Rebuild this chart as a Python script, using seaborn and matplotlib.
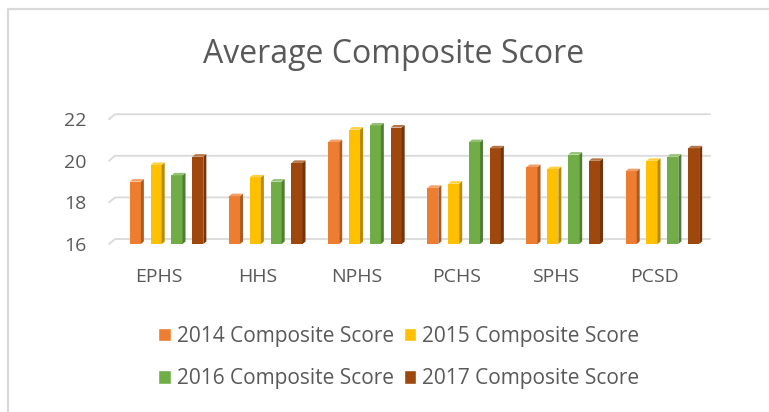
import numpy as np
import pandas as pd
import matplotlib
matplotlib.use("Agg")
import matplotlib.pyplot as plt
import matplotlib.transforms as mtransforms
from matplotlib.patches import Polygon
from matplotlib.lines import Line2D
import matplotlib.colors as mcolors
import seaborn as sns

# ---------------- data ----------------
schools = ["EPHS", "HHS", "NPHS", "PCHS", "SPHS", "PCSD"]
series_names = ["2014 Composite Score", "2015 Composite Score",
                "2016 Composite Score", "2017 Composite Score"]
score_2014 = [19.0, 18.3, 20.9, 18.7, 19.7, 19.5]
score_2015 = [19.8, 19.2, 21.5, 18.9, 19.6, 20.0]
score_2016 = [19.3, 19.0, 21.7, 20.9, 20.3, 20.2]
score_2017 = [20.2, 19.9, 21.6, 20.6, 20.0, 20.6]
y_ticks = [16, 18, 20, 22]
colors = ["#ED7D31", "#FFC000", "#70AD47", "#9E480E"]
title = "Average Composite Score"

rows = []
for name, vals in zip(series_names, [score_2014, score_2015, score_2016, score_2017]):
    for s, v in zip(schools, vals):
        rows.append({"School": s, "Series": name, "Score": v})
df = pd.DataFrame(rows)

# ---------------- style ----------------
sns.set_theme(style="white")
plt.rcParams["font.family"] = ["Open Sans", "DejaVu Sans"]
TXT = "#595959"
GRID = "#d9d9d9"

W, H = 769, 412
fig = plt.figure(figsize=(W / 100, H / 100), dpi=100)
fig.patch.set_facecolor("white")

ax_left, ax_right = 109, 704
ax_bottom, ax_top = 244, 119.2
ax = fig.add_axes([ax_left / W, (H - ax_bottom) / H,
                   (ax_right - ax_left) / W, (ax_bottom - ax_top) / H])
ax.patch.set_visible(False)

sns.barplot(data=df, x="School", y="Score", hue="Series", palette=colors,
            saturation=1, width=0.84, gap=0.47, ax=ax, errorbar=None)

ax.set_ylim(y_ticks[0], y_ticks[-1])
ax.set_yticks(y_ticks)
ax.set_xlabel("")
ax.set_ylabel("")
for sp in ax.spines.values():
    sp.set_visible(False)
ax.grid(False)
ax.tick_params(axis="y", length=0, pad=16, labelsize=14, labelcolor=TXT)
ax.tick_params(axis="x", length=0, pad=17, labelsize=14, labelcolor=TXT)

handles, labels = ax.get_legend_handles_labels()
if ax.get_legend() is not None:
    ax.get_legend().remove()

fig.canvas.draw()
to_fig = fig.transFigure.inverted()

def pix_to_fig(pts):
    return to_fig.transform(np.asarray(pts, dtype=float))

# back-wall gridlines (offset up/right) with slanted lead-in
gdx, gdy = 6, 5
for t in y_ticks:
    x0, y = ax.transData.transform((ax.get_xlim()[0], t))
    x1 = ax.transData.transform((ax.get_xlim()[1], t))[0]
    pts = pix_to_fig([(x0, y), (x0 + gdx, y + gdy), (x1 + gdx, y + gdy)])
    ax.add_line(Line2D(pts[:, 0], pts[:, 1], transform=fig.transFigure,
                       color=GRID, lw=1.3, zorder=0.2, clip_on=False))

# pseudo-3D bars: shift right, add side and top faces
shift_px = 8
sdx, sdy = 3, 2.5
shift = mtransforms.ScaledTranslation(shift_px / 100, 0, fig.dpi_scale_trans)
ylo = ax.get_ylim()[0]
for p in list(ax.patches):
    if p.get_height() <= 0:
        continue
    fc = p.get_facecolor()
    p.set_transform(ax.transData + shift)
    p.set_edgecolor("none")
    x0 = p.get_x(); x1 = x0 + p.get_width()
    y0 = max(p.get_y(), ylo); y1 = p.get_y() + p.get_height()
    (X0, Y0) = ax.transData.transform((x0, y0))
    (X1, Y1) = ax.transData.transform((x1, y1))
    X0 += shift_px; X1 += shift_px
    rgb = np.array(mcolors.to_rgb(fc))
    side = rgb * 0.72
    top = rgb + (1 - rgb) * 0.25
    side_pts = pix_to_fig([(X1, Y0), (X1 + sdx, Y0 + sdy), (X1 + sdx, Y1 + sdy), (X1, Y1)])
    top_pts = pix_to_fig([(X0, Y1), (X1, Y1), (X1 + sdx, Y1 + sdy), (X0 + sdx, Y1 + sdy)])
    ax.add_patch(Polygon(side_pts, closed=True, transform=fig.transFigure,
                         facecolor=side, edgecolor="none", zorder=1.5, clip_on=False))
    ax.add_patch(Polygon(top_pts, closed=True, transform=fig.transFigure,
                         facecolor=top, edgecolor="none", zorder=1.5, clip_on=False))

# title
fig.text(393.5 / W, (H - 63.3) / H, title, ha="center", va="baseline",
         fontsize=23, color=TXT)

# legend (row-major order: 2014, 2015 / 2016, 2017)
order = [0, 2, 1, 3]
leg = fig.legend([handles[i] for i in order], [labels[i] for i in order],
                 ncol=2, loc="center",
                 bbox_to_anchor=(399 / W, (H - 357.5) / H),
                 frameon=False, fontsize=15, labelcolor=TXT,
                 handlelength=0.6, handleheight=0.6, handletextpad=0.3,
                 columnspacing=0.45, labelspacing=1.05)

# chart frame (top and left edges visible)
fx = 8 / W
fy = (H - 9) / H
fig.add_artist(Line2D([fx, fx, 1.0], [0.0, fy, fy], transform=fig.transFigure,
                      color=GRID, lw=1.6))

fig.savefig("out.png", dpi=100, facecolor="white")
